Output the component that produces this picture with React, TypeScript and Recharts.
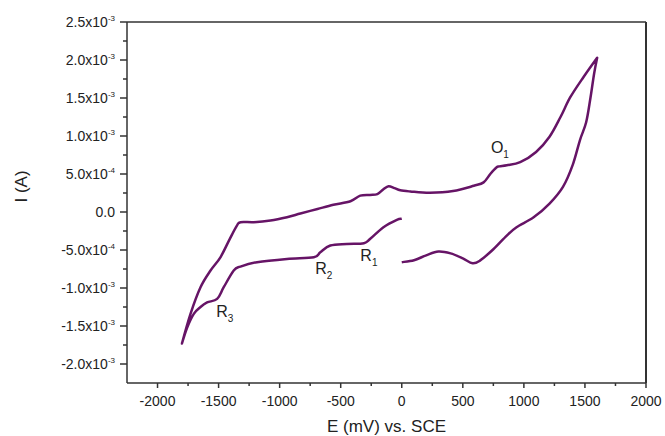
import React from 'react';
import { LineChart, Line, XAxis, YAxis, ReferenceLine, ReferenceDot } from 'recharts';

// anodic sweep, 0 -> +1600 mV (current in mA)
const forwardE = [0, 100, 200, 300, 400, 500, 580, 640, 750, 860, 940, 1080, 1210, 1320, 1400, 1460, 1510, 1545, 1575, 1600];
const forwardI = [-0.66, -0.635, -0.57, -0.52, -0.545, -0.61, -0.675, -0.64, -0.49, -0.31, -0.2, -0.07, 0.11, 0.33, 0.62, 0.95, 1.18, 1.5, 1.82, 2.03];

// cathodic sweep, +1600 -> -1800 mV
const reverseE = [1490, 1380, 1300, 1210, 1100, 970, 860, 800, 775, 725, 670, 590, 420, 230, 70, -12, -60, -108, -150, -200, -260, -340, -420, -560, -690, -830, -940, -1075, -1210, -1320, -1350, -1410, -1485, -1566, -1648, -1730, -1800];
const reverseI = [1.78, 1.51, 1.25, 0.99, 0.79, 0.655, 0.615, 0.6, 0.585, 0.5, 0.39, 0.345, 0.275, 0.253, 0.27, 0.285, 0.315, 0.34, 0.3, 0.235, 0.225, 0.215, 0.142, 0.095, 0.04, -0.02, -0.068, -0.112, -0.134, -0.134, -0.18, -0.36, -0.596, -0.77, -0.99, -1.34, -1.73];

// return sweep, -1800 -> 0 mV
const returnE = [-1757, -1703, -1648, -1594, -1512, -1458, -1376, -1321, -1185, -940, -720, -667, -585, -450, -310, -258, -150, -40, 0];
const returnI = [-1.52, -1.34, -1.25, -1.19, -1.144, -0.99, -0.77, -0.718, -0.66, -0.617, -0.596, -0.53, -0.44, -0.42, -0.41, -0.353, -0.2, -0.103, -0.09];

const xTicks = [-2000, -1750, -1500, -1250, -1000, -750, -500, -250, 0, 250, 500, 750, 1000, 1250, 1500, 1750, 2000];
const yTicks = [-2, -1.75, -1.5, -1.25, -1, -0.75, -0.5, -0.25, 0, 0.25, 0.5, 0.75, 1, 1.25, 1.5, 1.75, 2, 2.25, 2.5];

const peakNames = ['O', 'R', 'R', 'R'];
const peakSubs = ['1', '1', '2', '3'];
const peakE = [730, -339, -708, -1520];
const peakI = [0.775, -0.639, -0.814, -1.377];

const data = [
  ...forwardE.map((e, k) => ({ e, i: forwardI[k] })),
  ...reverseE.map((e, k) => ({ e, i: reverseI[k] })),
  ...returnE.map((e, k) => ({ e, i: returnI[k] })),
];

const AXIS = '#333';
const CURVE = '#661466';
const FONT = 'Arial, "Liberation Sans", sans-serif';

// catmull-rom style curve that keeps the sweep reversals sharp
const smoothCurve = (context: any) => {
  let pts: number[][] = [];
  const tangent = (k: number) => {
    const p = pts[k];
    const a = pts[k - 1] || p;
    const b = pts[k + 1] || p;
    const inX = p[0] - a[0], inY = p[1] - a[1];
    const outX = b[0] - p[0], outY = b[1] - p[1];
    if (inX * outX + inY * outY < 0) return [0, 0];
    return [(b[0] - a[0]) / 6, (b[1] - a[1]) / 6];
  };
  return {
    areaStart() {},
    areaEnd() {},
    lineStart() {
      pts = [];
    },
    point(x: number, y: number) {
      pts.push([+x, +y]);
    },
    lineEnd() {
      if (!pts.length) return;
      context.moveTo(pts[0][0], pts[0][1]);
      for (let k = 0; k < pts.length - 1; k++) {
        const t1 = tangent(k);
        const t2 = tangent(k + 1);
        const p1 = pts[k];
        const p2 = pts[k + 1];
        context.bezierCurveTo(p1[0] + t1[0], p1[1] + t1[1], p2[0] - t2[0], p2[1] - t2[1], p2[0], p2[1]);
      }
    },
  };
};

const XTick = (props: any) => {
  const { x, y, payload } = props;
  const v = payload.value;
  const major = v % 500 === 0;
  return (
    <g>
      <line x1={x} x2={x} y1={y} y2={y + (major ? 5 : 3)} stroke={AXIS} strokeWidth={1.5} />
      {major && (
        <text x={x} y={y + 23} textAnchor="middle" fontSize={14} fill="#222" fontFamily={FONT}>
          {v}
        </text>
      )}
    </g>
  );
};

const YTick = (props: any) => {
  const { x, y, payload } = props;
  const v = payload.value;
  const major = Math.abs(v * 2 - Math.round(v * 2)) < 1e-6;
  let label: React.ReactNode = null;
  if (major) {
    if (Math.abs(v) < 1e-9) {
      label = <tspan>0.0</tspan>;
    } else {
      const [m, ex] = (v / 1000).toExponential(1).split('e');
      label = (
        <>
          <tspan>{m}x10</tspan>
          <tspan dy={-6} fontSize={8}>{ex}</tspan>
        </>
      );
    }
  }
  return (
    <g>
      <line x1={x} x2={x - (major ? 7 : 4)} y1={y} y2={y} stroke={AXIS} strokeWidth={1.5} />
      {major && (
        <text x={x - 12} y={y + 5} textAnchor="end" fontSize={14} fill="#222" fontFamily={FONT}>
          {label}
        </text>
      )}
    </g>
  );
};

const PeakLabel = (props: any) => {
  const { cx, cy, name, sub } = props;
  return (
    <text x={cx} y={cy} fontSize={16} fill="#222" fontFamily={FONT}>
      <tspan>{name}</tspan>
      <tspan dy={5} fontSize={10}>{sub}</tspan>
    </text>
  );
};

export default function App() {
  return (
    <div style={{ position: 'absolute', left: 0, top: 0, width: 665, height: 436, background: '#fff' }}>
      <LineChart width={665} height={436} data={data} margin={{ top: 22, right: 19, bottom: 0, left: 0 }}>
        <XAxis
          dataKey="e"
          type="number"
          domain={[-2250, 2000]}
          ticks={xTicks}
          interval={0}
          allowDataOverflow
          height={53}
          tickLine={false}
          tickSize={0}
          tickMargin={0}
          axisLine={{ stroke: AXIS, strokeWidth: 1.5 }}
          tick={<XTick />}
          label={{ value: 'E (mV) vs. SCE', position: 'insideBottom', offset: 4, fontSize: 17, fill: '#222', fontFamily: FONT }}
        />
        <YAxis
          dataKey="i"
          type="number"
          domain={[-2.25, 2.5]}
          ticks={yTicks}
          interval={0}
          allowDataOverflow
          width={127}
          tickLine={false}
          tickSize={0}
          tickMargin={0}
          axisLine={{ stroke: AXIS, strokeWidth: 1.5 }}
          tick={<YTick />}
          label={{ value: 'I (A)', angle: -90, position: 'insideLeft', offset: 21, fontSize: 17, fill: '#222', fontFamily: FONT }}
        />
        <ReferenceLine y={2.5} stroke={AXIS} strokeWidth={1.5} />
        <ReferenceLine x={2000} stroke={AXIS} strokeWidth={2} />
        <Line
          dataKey="i"
          type={smoothCurve as any}
          stroke={CURVE}
          strokeWidth={2.5}
          strokeLinejoin="round"
          dot={false}
          activeDot={false}
          isAnimationActive={false}
        />
        {peakE.map((e, k) => (
          <ReferenceDot
            key={k}
            x={e}
            y={peakI[k]}
            r={0}
            shape={(p: any) => <PeakLabel cx={p.cx} cy={p.cy} name={peakNames[k]} sub={peakSubs[k]} />}
          />
        ))}
      </LineChart>
    </div>
  );
}
